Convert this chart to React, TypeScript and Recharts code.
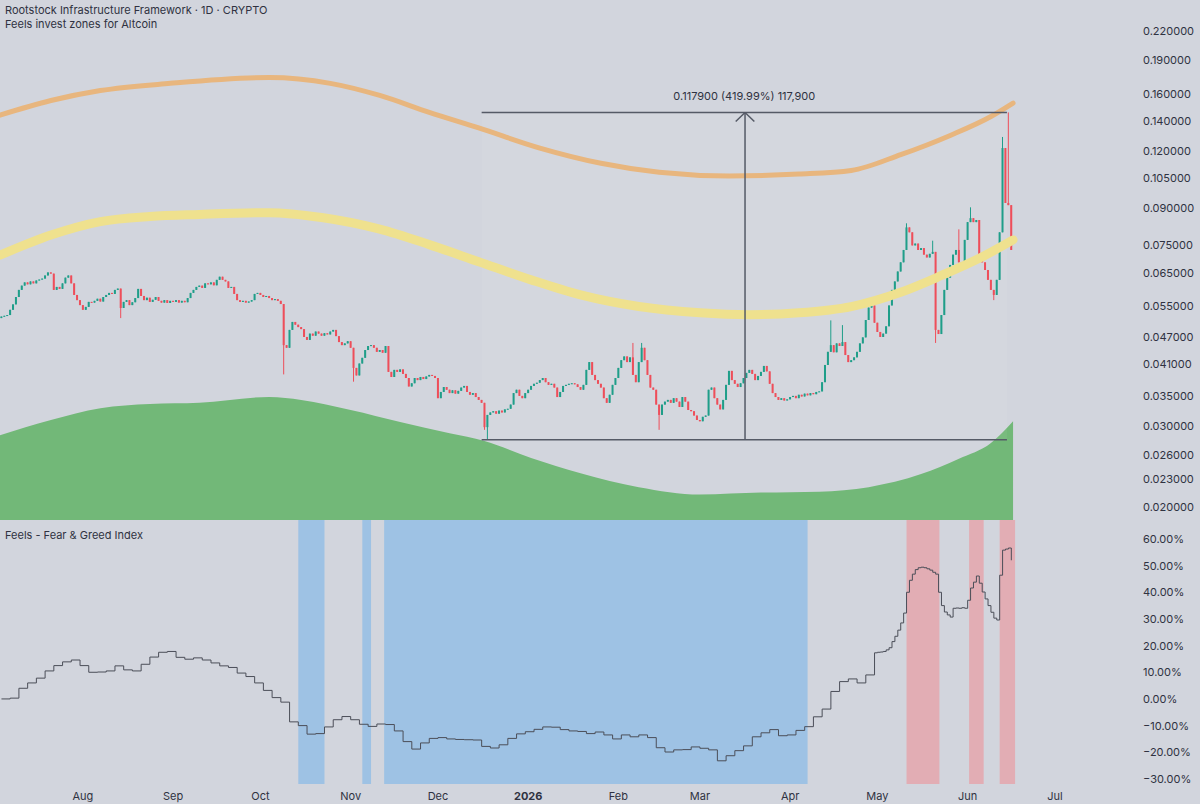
import React from "react";
import {
  ComposedChart,
  Bar,
  Line,
  Area,
  XAxis,
  YAxis,
  ReferenceArea,
  ReferenceLine,
} from "recharts";

// x values are day offsets counted from 2025-07-01
const BG = "#d2d5dd";
const TEXT = "#2f3241";
const FONT = "Inter, 'Noto Sans', sans-serif";
const UP = "#1f9e89";
const DOWN = "#ee4e5a";

const X_DOMAIN: [number, number] = [2.5, 392.5];
const PRICE_DOMAIN: [number, number] = [0.01873, 0.2572];
const FG_DOMAIN: [number, number] = [-31.9, 67.1];

const priceTicks = [0.02, 0.023, 0.026, 0.03, 0.035, 0.041, 0.047, 0.055, 0.065, 0.075, 0.09, 0.105, 0.12, 0.14, 0.16, 0.19, 0.22];
const fgTicks = [-30, -20, -10, 0, 10, 20, 30, 40, 50, 60];
const monthStarts = [31, 62, 92, 123, 153, 184, 215, 243, 274, 304, 335, 365];
const monthLabels = ["Aug", "Sep", "Oct", "Nov", "Dec", "2026", "Feb", "Mar", "Apr", "May", "Jun", "Jul"];

// daily closes, one array per month
const firstOpen = 0.0518;
const julCloses = [0.0522, 0.0524, 0.0526, 0.054, 0.0555, 0.0576, 0.0597, 0.061, 0.062, 0.0614, 0.0623, 0.0617, 0.0626, 0.0629, 0.0632, 0.0642, 0.0652, 0.0648, 0.0597, 0.0606, 0.06, 0.0617, 0.0635, 0.0642, 0.0617, 0.0582, 0.0567, 0.0553];
const augCloses = [0.054, 0.0548, 0.0562, 0.056, 0.0565, 0.0571, 0.0563, 0.0576, 0.0582, 0.0588, 0.0585, 0.0597, 0.0601, 0.0545, 0.0562, 0.0567, 0.0553, 0.0561, 0.0573, 0.06, 0.0579, 0.0567, 0.0574, 0.0562, 0.0568, 0.0576, 0.0565, 0.056, 0.0567, 0.0559, 0.0565];
const sepCloses = [0.0562, 0.0567, 0.056, 0.0565, 0.0561, 0.0573, 0.0588, 0.0597, 0.0606, 0.061, 0.0603, 0.0617, 0.0614, 0.062, 0.0611, 0.0628, 0.0638, 0.0628, 0.0623, 0.0603, 0.0606, 0.0585, 0.0567, 0.0562, 0.0565, 0.056, 0.0563, 0.0567, 0.0585, 0.0588];
const octCloses = [0.0582, 0.0576, 0.0579, 0.0573, 0.0567, 0.057, 0.0565, 0.0556, 0.0452, 0.0446, 0.0488, 0.0508, 0.0501, 0.0495, 0.049, 0.0471, 0.0464, 0.0479, 0.0474, 0.0484, 0.0479, 0.0474, 0.048, 0.0477, 0.0484, 0.0488, 0.0473, 0.0459, 0.0452, 0.0456, 0.0461];
const novCloses = [0.0446, 0.0403, 0.0388, 0.0412, 0.0424, 0.0441, 0.045, 0.0452, 0.0446, 0.0437, 0.0441, 0.0435, 0.045, 0.0395, 0.0385, 0.0399, 0.0395, 0.04, 0.0391, 0.0383, 0.0367, 0.0373, 0.0383, 0.0379, 0.0385, 0.0381, 0.0386, 0.0389, 0.0387, 0.0383];
const decCloses = [0.0346, 0.0357, 0.0366, 0.0361, 0.0355, 0.036, 0.0354, 0.0359, 0.0365, 0.0368, 0.0357, 0.0352, 0.0355, 0.0348, 0.0343, 0.0338, 0.0299, 0.0318, 0.0322, 0.0324, 0.032, 0.0325, 0.0322, 0.0327, 0.0328, 0.0335, 0.0355, 0.0361, 0.035, 0.0346, 0.0355];
const janCloses = [0.0361, 0.0368, 0.0372, 0.0374, 0.0379, 0.0383, 0.0375, 0.037, 0.0372, 0.0365, 0.0348, 0.0357, 0.0368, 0.037, 0.0372, 0.0373, 0.0371, 0.0366, 0.0361, 0.037, 0.0399, 0.0415, 0.0389, 0.0379, 0.0372, 0.0365, 0.0346, 0.0338, 0.0352, 0.037, 0.0383];
const febCloses = [0.0403, 0.0419, 0.0427, 0.0415, 0.0425, 0.0389, 0.0375, 0.0415, 0.0446, 0.0419, 0.0389, 0.0365, 0.0361, 0.0335, 0.0318, 0.0335, 0.034, 0.0343, 0.0338, 0.0346, 0.034, 0.0331, 0.0348, 0.034, 0.0326, 0.0324, 0.0317, 0.031];
const marCloses = [0.0308, 0.0315, 0.0317, 0.0361, 0.0365, 0.0346, 0.0335, 0.0327, 0.0343, 0.037, 0.0397, 0.0379, 0.0372, 0.0366, 0.0373, 0.0383, 0.0393, 0.0399, 0.0391, 0.0379, 0.0387, 0.0395, 0.0407, 0.0396, 0.0372, 0.0355, 0.0348, 0.0343, 0.0346, 0.0342, 0.0344];
const aprCloses = [0.0348, 0.035, 0.0346, 0.0352, 0.0349, 0.0354, 0.0351, 0.0355, 0.0353, 0.0357, 0.0358, 0.0375, 0.0409, 0.0437, 0.0452, 0.0436, 0.0456, 0.045, 0.0459, 0.043, 0.0415, 0.0419, 0.0425, 0.0437, 0.0456, 0.047, 0.0513, 0.0546, 0.0552, 0.0506];
const mayCloses = [0.0483, 0.0471, 0.0479, 0.0497, 0.0552, 0.0597, 0.0623, 0.0655, 0.0686, 0.073, 0.0818, 0.0798, 0.0747, 0.0754, 0.073, 0.0737, 0.0713, 0.0703, 0.0716, 0.0723, 0.0488, 0.0478, 0.0526, 0.0597, 0.0635, 0.0677, 0.0713, 0.073, 0.0686, 0.0677, 0.0768];
const junCloses = [0.084, 0.0857, 0.084, 0.0849, 0.0703, 0.0686, 0.066, 0.0628, 0.0597, 0.0582, 0.0628, 0.0798, 0.122, 0.0925, 0.0915, 0.073];

const closeRuns: [number, number[]][] = [
  [3, julCloses], [31, augCloses], [62, sepCloses], [92, octCloses], [123, novCloses], [153, decCloses],
  [184, janCloses], [215, febCloses], [243, marCloses], [274, aprCloses], [304, mayCloses], [335, junCloses],
];

// notable wicks by day
const wickHigh: Record<number, number> = { 220: 0.0457, 223: 0.0457, 288: 0.0512, 292: 0.05, 314: 0.0835, 323: 0.0765, 332: 0.081, 336: 0.0905, 347: 0.129, 349: 0.14597 };
const wickLow: Record<number, number> = { 44: 0.0518, 100: 0.039, 124: 0.0376, 169: 0.0295, 170: 0.02807, 229: 0.0295, 324: 0.0457, 344: 0.0567 };

// indicator bands
const greenDays = [2.5, 20, 37, 54, 71, 95, 106, 123, 140, 157, 169, 185, 202, 222, 243, 264, 284, 301, 319, 332, 343, 350.6];
const greenValues = [0.0287, 0.031, 0.0329, 0.0336, 0.0338, 0.0348, 0.0343, 0.0326, 0.0307, 0.029, 0.0279, 0.0256, 0.0237, 0.0221, 0.0213, 0.0215, 0.0216, 0.0221, 0.0236, 0.0255, 0.0276, 0.0308];
const yellowDays = [2.5, 20, 37, 54, 71, 95, 113, 133, 150, 167, 185, 202, 222, 243, 260, 277, 295, 312, 326, 339, 350.6];
const yellowValues = [0.0711, 0.0787, 0.0842, 0.0864, 0.0873, 0.0881, 0.086, 0.0811, 0.075, 0.0688, 0.0628, 0.0582, 0.0549, 0.0532, 0.0527, 0.0532, 0.0549, 0.059, 0.0642, 0.07, 0.0768];
const orangeDays = [2.5, 20, 37, 61, 95, 116, 133, 150, 167, 188, 209, 229, 253, 277, 295, 312, 329, 343, 350.6];
const orangeValues = [0.144, 0.155, 0.163, 0.169, 0.174, 0.169, 0.159, 0.146, 0.135, 0.122, 0.113, 0.108, 0.106, 0.107, 0.109, 0.118, 0.13, 0.143, 0.153];

// price range measurement
const RANGE_LOW = 0.02807;
const RANGE_HIGH = 0.14597;
const rangeFrom = 168;
const rangeTo = 348.5;
const arrowDay = 258.5;
const rangeLabel = "0.117900 (419.99%) 117,900";

// fear & greed: every 3 days from day 3 to 303, then daily 304..350
const fgCoarse = [
  0, 0.3, 4, 6, 7.8, 10.5, 12.5, 13.9, 14.6, 12.5,
  10, 10.1, 10.5, 12.4, 10.9, 10.5, 13, 15.7, 17.5, 17.8,
  15.6, 14.9, 15.4, 14.6, 13.5, 12.4, 11.8, 9.7, 8.4, 6,
  3.2, 0.5, -1.2, -8.6, -10, -13.2, -13, -10.5, -7.8, -6.6,
  -7.8, -9.5, -10.3, -9.4, -9.6, -12, -16, -18.8, -16.5, -14.8,
  -14.5, -15, -15.2, -15.3, -15.4, -17.8, -18.4, -17.2, -14.8, -13.1,
  -12.3, -11.4, -10.5, -10.6, -11.5, -12, -12.2, -13, -12.4, -13.5,
  -15, -13.5, -14.2, -13.5, -14.5, -18.3, -19.9, -19.1, -19, -18,
  -18.5, -19.1, -23.2, -21.3, -19.4, -17.6, -14.2, -12.7, -11.5, -13.8,
  -13.5, -11.8, -10.4, -6.7, -3.8, 2.8, 6.5, 7.5, 6, 9,
  17.3,
];
const fgDaily = [
  17.5, 17.6, 17.8, 18.4, 19.2, 21.5, 23.5, 25.8, 28.5, 32.2,
  40, 44.5, 46.8, 48.5, 49.2, 49.4, 49.2, 48.8, 48.3, 47.5,
  46.8, 40, 35, 32.6, 31.5, 30.7, 34, 34.1, 34, 34.2,
  34, 37, 41.6, 43.8, 46.1, 43.4, 40.1, 37.5, 35, 32.5,
  30.3, 29.6, 46.4, 55.8, 56.2, 56.6, 52,
];
const fearZones: [number, number][] = [[105, 114], [127, 130], [134.5, 280]];
const greedZones: [number, number][] = [[314, 325.3], [335.5, 340.5], [346, 351.3]];

const candles: { d: number; o: number; h: number; l: number; c: number; range: [number, number] }[] = [];
let prevClose = firstOpen;
closeRuns.forEach(([start, arr]) => {
  arr.forEach((c, i) => {
    const d = start + i;
    const o = prevClose;
    const h = Math.max(o, c, wickHigh[d] ?? 0);
    const l = Math.min(o, c, wickLow[d] ?? Infinity);
    candles.push({ d, o, h, l, c, range: [l, h] });
    prevClose = c;
  });
});

const toSeries = (days: number[], vals: number[]) => days.map((d, i) => ({ d, v: vals[i] }));
const greenBand = toSeries(greenDays, greenValues);
const yellowBand = toSeries(yellowDays, yellowValues);
const orangeBand = toSeries(orangeDays, orangeValues);
const fgData = [
  ...fgCoarse.map((v, i) => ({ d: 3 + i * 3, v })),
  ...fgDaily.map((v, i) => ({ d: 304 + i, v })),
];

const Candle = (props: any) => {
  const { x, y, width, height, payload } = props;
  if (!payload) return null;
  const top = height < 0 ? y + height : y;
  const span = Math.abs(height);
  const { o, h, l, c } = payload;
  const logSpan = Math.log(h / l);
  const yAt = (v: number) => (logSpan > 0 ? top + (span * Math.log(h / v)) / logSpan : top);
  const bodyTop = yAt(Math.max(o, c));
  const bodyBot = yAt(Math.min(o, c));
  const color = c >= o ? UP : DOWN;
  const cx = x + width / 2;
  return (
    <g>
      <line x1={cx} x2={cx} y1={top} y2={top + span} stroke={color} strokeWidth={1} />
      <rect x={cx - 1} y={bodyTop} width={2} height={Math.max(1, bodyBot - bodyTop)} fill={color} />
    </g>
  );
};

const PriceTick = (props: any) => {
  const { x, y, payload } = props;
  return (
    <text x={x} y={y} dy={4} fill={TEXT} fontSize={11} textAnchor="start">
      {Number(payload.value).toFixed(6)}
    </text>
  );
};

const PercentTick = (props: any) => {
  const { x, y, payload } = props;
  const v = Number(payload.value);
  const s = (v < 0 ? "\u2212" : "") + Math.abs(v).toFixed(2) + "%";
  return (
    <text x={x} y={y} dy={4} fill={TEXT} fontSize={11} textAnchor="start">
      {s}
    </text>
  );
};

const MonthTick = (props: any) => {
  const { x, y, payload } = props;
  const label = monthLabels[monthStarts.indexOf(payload.value)];
  return (
    <text x={x} y={y + 16} fill={TEXT} fontSize={11} textAnchor="middle" fontWeight={label === "2026" ? 700 : 400}>
      {label}
    </text>
  );
};

export default function App() {
  return (
    <div style={{ position: "fixed", left: 0, top: 0, width: 1200, height: 804, background: BG, fontFamily: FONT, overflow: "hidden" }}>
      <div style={{ position: "absolute", left: 0, top: 0 }}>
        <ComposedChart width={1200} height={520} data={candles} margin={{ top: 0, right: 0, bottom: 0, left: 0 }}>
          <XAxis dataKey="d" type="number" domain={X_DOMAIN} allowDataOverflow hide />
          <YAxis
            orientation="right"
            width={65}
            scale="log"
            domain={PRICE_DOMAIN}
            allowDataOverflow
            ticks={priceTicks}
            interval={0}
            axisLine={false}
            tickLine={false}
            tickSize={0}
            tickMargin={8}
            tick={<PriceTick />}
          />
          <Area data={greenBand} dataKey="v" type="monotone" baseValue={PRICE_DOMAIN[0]} stroke="none" fill="#72b878" fillOpacity={1} isAnimationActive={false} />
          <Line data={orangeBand} dataKey="v" type="monotone" stroke="#e8b67e" strokeWidth={5} strokeLinecap="round" dot={false} isAnimationActive={false} />
          <Line data={yellowBand} dataKey="v" type="monotone" stroke="#efe18e" strokeWidth={9} strokeLinecap="round" dot={false} isAnimationActive={false} />
          <ReferenceArea x1={rangeFrom} x2={rangeTo} y1={RANGE_LOW} y2={RANGE_HIGH} fill="#ffffff" fillOpacity={0.05} stroke="none" />
          <Bar dataKey="range" shape={<Candle />} barSize={2} isAnimationActive={false} />
          <ReferenceLine
            segment={[{ x: rangeFrom, y: RANGE_HIGH }, { x: rangeTo, y: RANGE_HIGH }]}
            stroke="#555a66"
            strokeWidth={1.5}
            label={{ value: rangeLabel, position: "top", offset: 12, fill: TEXT, fontSize: 11 }}
          />
          <ReferenceLine segment={[{ x: rangeFrom, y: RANGE_LOW }, { x: rangeTo, y: RANGE_LOW }]} stroke="#555a66" strokeWidth={1.5} />
          <ReferenceLine segment={[{ x: arrowDay, y: RANGE_LOW }, { x: arrowDay, y: RANGE_HIGH }]} stroke="#555a66" strokeWidth={1.5} />
          <ReferenceLine segment={[{ x: arrowDay - 3.2, y: RANGE_HIGH * 0.955 }, { x: arrowDay, y: RANGE_HIGH }]} stroke="#555a66" strokeWidth={1.5} />
          <ReferenceLine segment={[{ x: arrowDay + 3.2, y: RANGE_HIGH * 0.955 }, { x: arrowDay, y: RANGE_HIGH }]} stroke="#555a66" strokeWidth={1.5} />
        </ComposedChart>
      </div>

      <div style={{ position: "absolute", left: 0, top: 520 }}>
        <ComposedChart width={1200} height={284} data={fgData} margin={{ top: 0, right: 0, bottom: 0, left: 0 }}>
          <XAxis
            dataKey="d"
            type="number"
            domain={X_DOMAIN}
            allowDataOverflow
            ticks={monthStarts}
            interval={0}
            height={20}
            axisLine={false}
            tickLine={false}
            tickSize={0}
            tickMargin={0}
            tick={<MonthTick />}
          />
          <YAxis
            orientation="right"
            width={65}
            domain={FG_DOMAIN}
            allowDataOverflow
            ticks={fgTicks}
            interval={0}
            axisLine={false}
            tickLine={false}
            tickSize={0}
            tickMargin={8}
            tick={<PercentTick />}
          />
          {fearZones.map(([a, b], i) => (
            <ReferenceArea key={"f" + i} x1={a} x2={b} y1={FG_DOMAIN[0]} y2={FG_DOMAIN[1]} fill="#9ec2e4" fillOpacity={1} stroke="none" />
          ))}
          {greedZones.map(([a, b], i) => (
            <ReferenceArea key={"g" + i} x1={a} x2={b} y1={FG_DOMAIN[0]} y2={FG_DOMAIN[1]} fill="#e2adb4" fillOpacity={1} stroke="none" />
          ))}
          <Line dataKey="v" type="stepAfter" stroke="#4b4e58" strokeWidth={1} dot={false} isAnimationActive={false} />
        </ComposedChart>
      </div>

      <div style={{ position: "absolute", left: 5, top: 3, fontSize: 11, lineHeight: "14px", color: TEXT }}>
        <div>Rootstock Infrastructure Framework · 1D · CRYPTO</div>
        <div>Feels invest zones for Altcoin</div>
      </div>
      <div style={{ position: "absolute", left: 5, top: 528, fontSize: 11, lineHeight: "14px", color: TEXT }}>
        Feels - Fear &amp; Greed Index
      </div>
    </div>
  );
}
